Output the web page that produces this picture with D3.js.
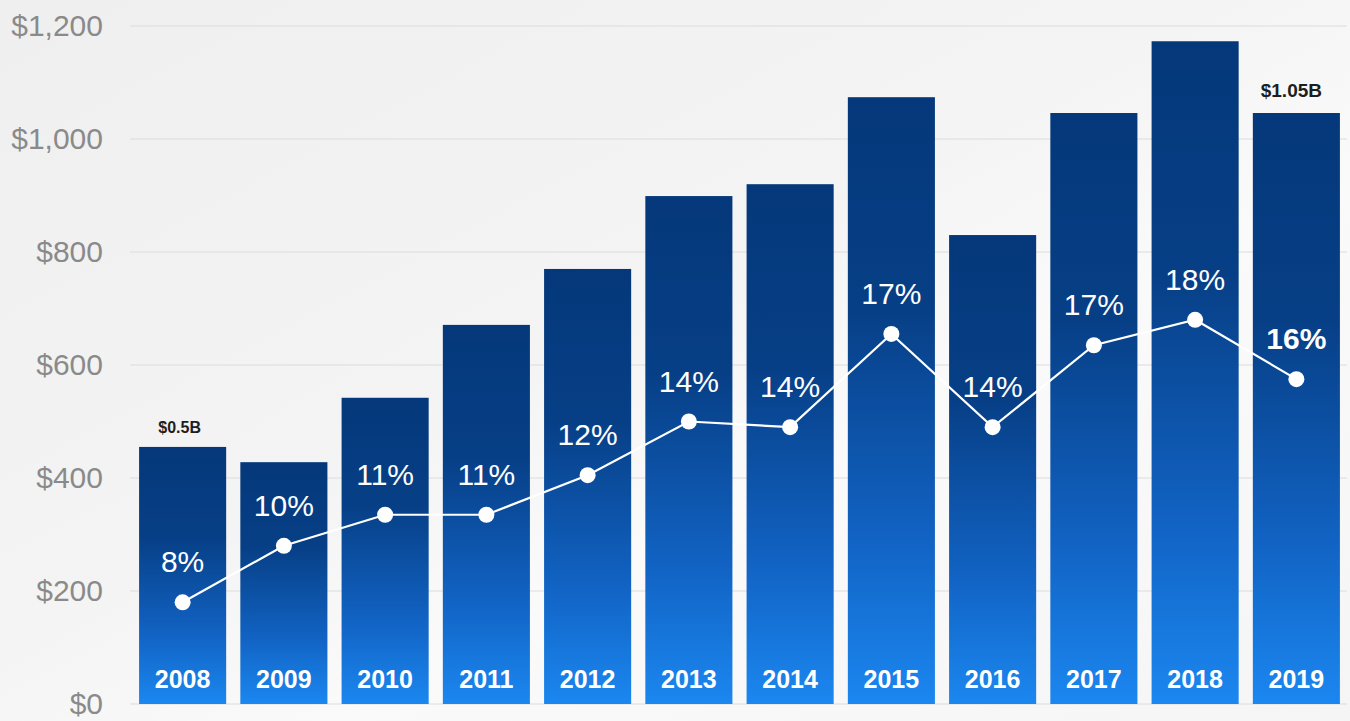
<!DOCTYPE html>
<html lang="en">
	<head>
		<meta charset="utf-8">
		<title>Revenue by Year</title>
		<script src="https://d3js.org/d3.v7.min.js"></script>
		<style type="text/css">
			body {
				margin: 0;
				background: #f3f3f3;
			}
			text {
				font-family: "Liberation Sans", Arial, sans-serif;
			}
		</style>
	</head>
	<body>
		<script type="text/javascript">

			//Data
			var years = ["2008", "2009", "2010", "2011", "2012", "2013", "2014", "2015", "2016", "2017", "2018", "2019"];
			var revenue = [455, 428, 542, 671, 770, 899, 920, 1074, 830, 1046, 1173, 1046];
			var margin = [8.0, 10.0, 11.1, 11.1, 12.5, 14.4, 14.2, 17.5, 14.2, 17.1, 18.0, 15.9];
			var marginLabels = ["8%", "10%", "11%", "11%", "12%", "14%", "14%", "17%", "14%", "17%", "18%", "16%"];
			var yTicks = [0, 200, 400, 600, 800, 1000, 1200];
			var callouts = [[0, "$0.5B"], [11, "$1.05B"]];

			//Width and height
			var w = 1350;
			var h = 721;

			//Scales
			var xScale = d3.scaleBand()
					.domain(years)
					.range([132, 1347])
					.paddingInner(0.14)
					.paddingOuter(0.07);

			var yScale = d3.scaleLinear()
					.domain([0, 1200])
					.range([704, 26]);

			//hidden right scale for the percentage line
			var pScale = d3.scaleLinear()
					.domain([4.4, 28.4])
					.range([704, 26]);

			//Create SVG element
			var svg = d3.select("body")
						.append("svg")
						.attr("width", w)
						.attr("height", h);

			var defs = svg.append("defs");

			var bg = defs.append("linearGradient")
				.attr("id", "bg")
				.attr("x1", "0").attr("y1", "0")
				.attr("x2", "1").attr("y2", "1");
			bg.append("stop").attr("offset", "0").attr("stop-color", "#efefef");
			bg.append("stop").attr("offset", "0.45").attr("stop-color", "#f4f4f4");
			bg.append("stop").attr("offset", "0.62").attr("stop-color", "#fafafa");
			bg.append("stop").attr("offset", "1").attr("stop-color", "#f5f5f5");

			var barGrad = defs.append("linearGradient")
				.attr("id", "barGrad")
				.attr("x1", "0").attr("y1", "0")
				.attr("x2", "0").attr("y2", "1");
			barGrad.append("stop").attr("offset", "0").attr("stop-color", "#04387a");
			barGrad.append("stop").attr("offset", "0.35").attr("stop-color", "#073f86");
			barGrad.append("stop").attr("offset", "0.72").attr("stop-color", "#1162c2");
			barGrad.append("stop").attr("offset", "1").attr("stop-color", "#1b87f0");

			svg.append("rect")
				.attr("width", w)
				.attr("height", h)
				.attr("fill", "url(#bg)");

			//Gridlines
			svg.append("g")
				.selectAll("line")
				.data(yTicks)
				.enter()
				.append("line")
				.attr("x1", 130)
				.attr("x2", 1347)
				.attr("y1", function(d) { return yScale(d); })
				.attr("y2", function(d) { return yScale(d); })
				.attr("stroke", "#dcdcdc")
				.attr("stroke-width", 1.2);

			//Y axis
			var yAxis = d3.axisLeft(yScale)
					.tickValues(yTicks)
					.tickSize(0)
					.tickPadding(0)
					.tickFormat(function(d) { return "$" + d3.format(",")(d); });

			var ya = svg.append("g")
				.attr("transform", "translate(103,0)")
				.call(yAxis);
			ya.select(".domain").remove();
			ya.selectAll("text")
				.attr("font-size", "30px")
				.attr("font-family", "'Liberation Sans', Arial, sans-serif")
				.attr("fill", "#8a8a8a");

			//Bars
			svg.selectAll("rect.bar")
			   .data(revenue)
			   .enter()
			   .append("rect")
			   .attr("class", "bar")
			   .attr("x", function(d, i) { return xScale(years[i]); })
			   .attr("y", function(d) { return yScale(d); })
			   .attr("width", xScale.bandwidth())
			   .attr("height", function(d) { return yScale(0) - yScale(d); })
			   .attr("fill", "url(#barGrad)");

			//Year labels inside bars
			svg.selectAll("text.year")
			   .data(years)
			   .enter()
			   .append("text")
			   .attr("class", "year")
			   .text(function(d) { return d; })
			   .attr("x", function(d) { return xScale(d) + xScale.bandwidth() / 2; })
			   .attr("y", 688)
			   .attr("text-anchor", "middle")
			   .attr("font-size", "25px")
			   .attr("font-weight", "bold")
			   .attr("fill", "white");

			//Callouts on first and last bar
			svg.selectAll("text.callout")
			   .data(callouts)
			   .enter()
			   .append("text")
			   .attr("class", "callout")
			   .text(function(d) { return d[1]; })
			   .attr("x", function(d) { return xScale(years[d[0]]) + xScale.bandwidth() / 2 - (d[0] == 11 ? 5 : 3); })
			   .attr("y", function(d) { return yScale(revenue[d[0]]) - (d[0] == 11 ? 16 : 14); })
			   .attr("text-anchor", "middle")
			   .attr("font-size", function(d) { return d[0] == 11 ? "19px" : "16px"; })
			   .attr("font-weight", "bold")
			   .attr("fill", "#1e1e1e");

			//Margin line
			var line = d3.line()
				.x(function(d, i) { return xScale(years[i]) + xScale.bandwidth() / 2; })
				.y(function(d) { return pScale(d); });

			svg.append("path")
				.datum(margin)
				.attr("d", line)
				.attr("fill", "none")
				.attr("stroke", "white")
				.attr("stroke-width", 2.2);

			svg.selectAll("circle")
			   .data(margin)
			   .enter()
			   .append("circle")
			   .attr("cx", function(d, i) { return xScale(years[i]) + xScale.bandwidth() / 2; })
			   .attr("cy", function(d) { return pScale(d); })
			   .attr("r", 8)
			   .attr("fill", "white");

			svg.selectAll("text.pct")
			   .data(margin)
			   .enter()
			   .append("text")
			   .attr("class", "pct")
			   .text(function(d, i) { return marginLabels[i]; })
			   .attr("x", function(d, i) { return xScale(years[i]) + xScale.bandwidth() / 2; })
			   .attr("y", function(d) { return pScale(d) - 30; })
			   .attr("text-anchor", "middle")
			   .attr("font-size", "30px")
			   .attr("font-weight", function(d, i) { return i == 11 ? "bold" : "normal"; })
			   .attr("fill", "white");

		</script>
	</body>
</html>
